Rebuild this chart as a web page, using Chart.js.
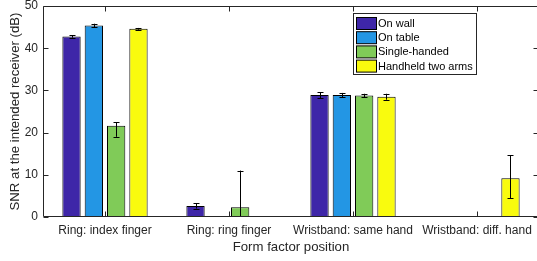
<!DOCTYPE html>
<html>
<head>
<meta charset="utf-8">
<script src="https://cdn.jsdelivr.net/npm/chart.js@4.4.1/dist/chart.umd.min.js"></script>
<style>
  html, body { margin: 0; padding: 0; background: #fff; overflow: hidden; }
  #wrap { width: 541px; height: 261px; }
</style>
</head>
<body>
<div id="wrap"><canvas id="chart" width="541" height="261"></canvas></div>
<script>
// 데이터
const categories = ['Ring: index finger', 'Ring: ring finger', 'Wristband: same hand', 'Wristband: diff. hand'];
const seriesNames = ['On wall', 'On table', 'Single-handed', 'Handheld two arms'];
const onWall = [42.8, 2.6, 28.9, 0];
const onTable = [45.4, 0, 28.9, 0];
const singleHanded = [21.6, 2.3, 28.8, 0];
const twoArms = [44.6, 0, 28.5, 9.2];
// 오차 막대 [아래, 위]
const onWallErr = [[0.3, 0.3], [0.6, 0.6], [0.7, 0.7], [0, 0]];
const onTableErr = [[0.4, 0.4], [0, 0], [0.5, 0.5], [0, 0]];
const singleErr = [[2.6, 0.8], [8.7, 8.7], [0.4, 0.4], [0, 0]];
const twoArmsErr = [[0.2, 0.2], [0, 0], [0.7, 0.7], [4.7, 5.4]];
const yTicks = [0, 10, 20, 30, 40, 50];

const colors = ['#3E26A8', '#2396E4', '#80CB58', '#F9FB0E'];
const values = [onWall, onTable, singleHanded, twoArms];
const errors = [onWallErr, onTableErr, singleErr, twoArmsErr];
const axisColor = '#262626';
const fontFamily = '"Liberation Sans", Arial, Helvetica, sans-serif';

// 오차 막대 그리기
const errorBarPlugin = {
    id: 'errorBars',
    afterDatasetsDraw(chart) {
        const ctx = chart.ctx;
        const y = chart.scales.y;
        const area = chart.chartArea;
        ctx.save();
        ctx.beginPath();
        ctx.rect(area.left, area.top, area.right - area.left, area.bottom - area.top);
        ctx.clip();
        ctx.strokeStyle = '#000';
        ctx.lineWidth = 1;
        chart.data.datasets.forEach((ds, di) => {
            const meta = chart.getDatasetMeta(di);
            meta.data.forEach((bar, i) => {
                const e = errors[di][i];
                const v = ds.data[i];
                if (e[0] === 0 && e[1] === 0) return;
                const x = Math.round(bar.x) + 0.5;
                const yLo = y.getPixelForValue(v - e[0]);
                const yHi = y.getPixelForValue(v + e[1]);
                ctx.beginPath();
                ctx.moveTo(x, yLo);
                ctx.lineTo(x, yHi);
                ctx.moveTo(x - 3, Math.round(yLo) + 0.5);
                ctx.lineTo(x + 3, Math.round(yLo) + 0.5);
                ctx.moveTo(x - 3, Math.round(yHi) + 0.5);
                ctx.lineTo(x + 3, Math.round(yHi) + 0.5);
                ctx.stroke();
            });
        });
        ctx.restore();
    }
};

// 박스, 안쪽 눈금, 범례
const framePlugin = {
    id: 'frame',
    afterDraw(chart) {
        const ctx = chart.ctx;
        const a = chart.chartArea;
        const xs = chart.scales.x;
        const ys = chart.scales.y;
        const L = Math.round(a.left) + 0.5, R = Math.round(a.right) - 0.5;
        const T = Math.round(a.top) + 0.5, B = Math.round(a.bottom) - 0.5;
        ctx.save();
        ctx.strokeStyle = axisColor;
        ctx.lineWidth = 1;
        ctx.beginPath();
        ctx.rect(L, T, R - L, B - T);
        yTicks.forEach(t => {
            const py = Math.round(ys.getPixelForValue(t)) + 0.5;
            ctx.moveTo(L, py); ctx.lineTo(L + 5, py);
            ctx.moveTo(R, py); ctx.lineTo(R - 5, py);
        });
        categories.forEach((c, i) => {
            const px = Math.round(xs.getPixelForValue(i)) + 0.5;
            ctx.moveTo(px, B); ctx.lineTo(px, B - 5);
            ctx.moveTo(px, T); ctx.lineTo(px, T + 5);
        });
        ctx.stroke();

        // 범례
        const lx = 353.5, ly = 13.5, lw = 123, lh = 61;
        ctx.fillStyle = '#fff';
        ctx.fillRect(lx, ly, lw, lh);
        ctx.strokeStyle = axisColor;
        ctx.strokeRect(lx, ly, lw, lh);
        ctx.font = '11px ' + fontFamily;
        ctx.textBaseline = 'middle';
        seriesNames.forEach((name, i) => {
            const ry = 17.5 + i * 14.2;
            ctx.fillStyle = colors[i];
            ctx.fillRect(356.5, ry, 20, 12);
            ctx.strokeStyle = '#000';
            ctx.strokeRect(356.5, ry, 20, 12);
            ctx.fillStyle = '#000';
            ctx.fillText(name, 378, ry + 6.5);
        });
        ctx.restore();
    }
};

new Chart(document.getElementById('chart'), {
    type: 'bar',
    data: {
        labels: categories,
        datasets: values.map((v, i) => ({
            label: seriesNames[i],
            data: v,
            backgroundColor: colors[i],
            borderColor: '#000',
            borderWidth: 1,
            borderSkipped: false,
            categoryPercentage: 0.72,
            barPercentage: 0.82
        }))
    },
    options: {
        responsive: false,
        animation: false,
        layout: { padding: { left: 0, top: 0, right: 2, bottom: 0 } },
        plugins: { legend: { display: false }, tooltip: { enabled: false } },
        scales: {
            x: {
                grid: { display: false, drawTicks: false },
                border: { display: false },
                ticks: { color: axisColor, font: { family: fontFamily, size: 12 }, padding: 6, maxRotation: 0, autoSkip: false },
                title: { display: true, text: 'Form factor position', color: axisColor, font: { family: fontFamily, size: 13.2 }, padding: { top: 0, bottom: 6 } },
                afterFit(scale) { scale.height = 44; }
            },
            y: {
                min: 0, max: 50,
                grid: { display: false, drawTicks: false },
                border: { display: false },
                ticks: { stepSize: 10, color: axisColor, font: { family: fontFamily, size: 12 }, padding: 5 },
                title: { display: true, text: 'SNR at the intended receiver (dB)', color: axisColor, font: { family: fontFamily, size: 13.2 }, padding: { top: 7, bottom: 0 } },
                afterFit(scale) { scale.width = 43; scale.paddingTop = 6; scale.paddingBottom = 0; }
            }
        }
    },
    plugins: [errorBarPlugin, framePlugin]
});
</script>
</body>
</html>
